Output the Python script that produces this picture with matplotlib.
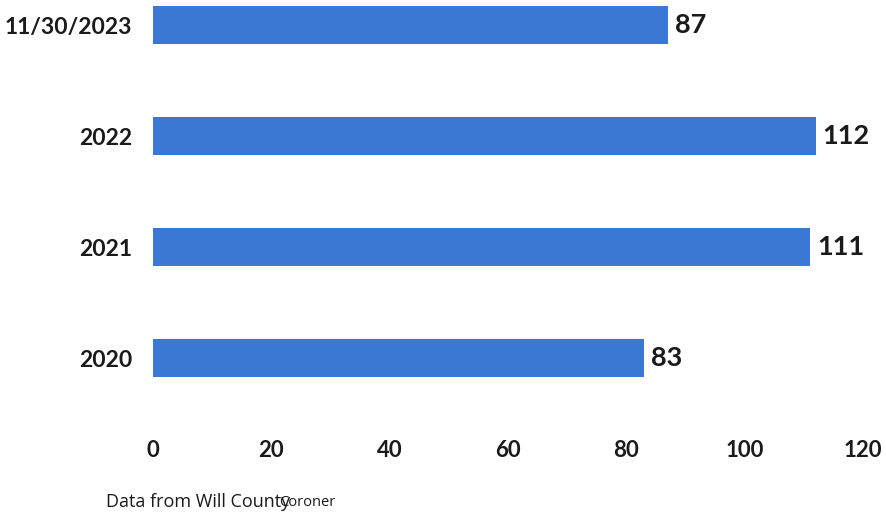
import matplotlib
matplotlib.use('Agg')
import matplotlib.pyplot as plt

plt.rcParams['font.family'] = ['Lato', 'DejaVu Sans']

# 数据
years = ['2020', '2021', '2022', '11/30/2023']
deaths = [83, 111, 112, 87]
x_ticks = [0, 20, 40, 60, 80, 100, 120]

fig = plt.figure(figsize=(8.86, 5.12), dpi=100)
ax = fig.add_axes([0.1727, 0.1707, 0.8013, 0.8238])

pos = list(range(len(years)))
bars = ax.barh(pos, deaths, height=0.35, color='#3B78D6')

# 柱子右侧标数值
for b, v in zip(bars, deaths):
    ax.text(b.get_width() + 1.2, b.get_y() + b.get_height() / 2, str(v),
            va='center', ha='left', fontsize=19.5, fontweight='bold', color='#1a1a1a')

ax.set_xlim(0, 120)
ax.set_ylim(-0.6, 3.2)
ax.set_xticks(x_ticks)
ax.set_yticks(pos)
ax.set_yticklabels(years)
ax.tick_params(axis='x', length=0, pad=11, labelsize=16)
ax.tick_params(axis='y', length=0, pad=15, labelsize=16.5)
for lab in ax.get_xticklabels() + ax.get_yticklabels():
    lab.set_fontweight('bold')
    lab.set_color('#1a1a1a')
for s in ax.spines.values():
    s.set_visible(False)

# 数据来源（两段文字叠在一起）
fig.text(106 / 886, 1 - 502 / 512, 'Data from Will County', fontsize=13,
         family=['Open Sans', 'DejaVu Sans'], va='center', ha='left', color='#1a1a1a')
fig.text(279 / 886, 1 - 502 / 512, 'Coroner', fontsize=10.5,
         family=['Open Sans', 'DejaVu Sans'], va='center', ha='left', color='#1a1a1a')

plt.savefig('out.png', dpi=100)
